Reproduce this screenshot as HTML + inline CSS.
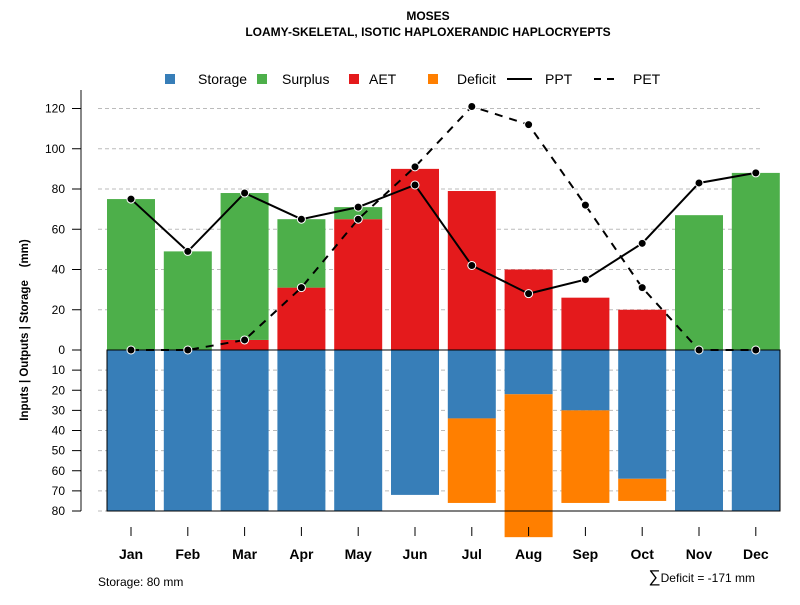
<!DOCTYPE html>
<html><head><meta charset="utf-8"><style>
body{margin:0;background:#fff;font-family:"Liberation Sans",sans-serif}
svg text{font-family:"Liberation Sans",sans-serif}
</style></head><body>
<svg id="c" width="800" height="600" xmlns="http://www.w3.org/2000/svg">
<text x="428" y="20" font-size="12" font-weight="bold" text-anchor="middle">MOSES</text>
<text x="428" y="36" font-size="12" font-weight="bold" text-anchor="middle">LOAMY-SKELETAL, ISOTIC HAPLOXERANDIC HAPLOCRYEPTS</text>
<g>
<rect x="165" y="74" width="10" height="10" fill="#377eb8"/>
<text x="198" y="84" font-size="14">Storage</text>
<rect x="257" y="74" width="10" height="10" fill="#4daf4a"/>
<text x="282" y="84" font-size="14">Surplus</text>
<rect x="349" y="74" width="10" height="10" fill="#e41a1c"/>
<text x="369" y="84" font-size="14">AET</text>
<rect x="428" y="74" width="10" height="10" fill="#ff7f00"/>
<text x="457" y="84" font-size="14">Deficit</text>
<line x1="507" y1="79" x2="532" y2="79" stroke="#000" stroke-width="2"/>
<text x="545" y="84" font-size="14">PPT</text>
<line x1="594" y1="79" x2="618" y2="79" stroke="#000" stroke-width="2" stroke-dasharray="7,6"/>
<text x="633" y="84" font-size="14">PET</text>
</g>
<text transform="translate(28,330) rotate(-90)" font-size="11.5" font-weight="bold" text-anchor="middle" xml:space="preserve" style="white-space:pre">Inputs | Outputs | Storage    (mm)</text>
<text x="98" y="586" font-size="12">Storage: 80 mm</text>
<text x="755" y="582" font-size="12" text-anchor="end"><tspan font-size="17">∑</tspan>Deficit = -171 mm</text>
<g id="plot"></g>
</svg>
<script>
const months=["Jan","Feb","Mar","Apr","May","Jun","Jul","Aug","Sep","Oct","Nov","Dec"];
const ppt=[75,49,78,65,71,82,42,28,35,53,83,88];
const pet=[0,0,5,31,65,91,121,112,72,31,0,0];
const aet=[0,0,5,31,65,90,79,40,26,20,0,0];
const surplus=[75,49,73,34,6,0,0,0,0,0,67,88];
const storage=[80,80,80,80,80,72,34,22,30,64,80,80];
const deficit=[0,0,0,0,0,0,42,71,46,11,0,0];
const posTicks=[0,20,40,60,80,100,120];
const negTicks=[10,20,30,40,50,60,70,80];
const NS="http://www.w3.org/2000/svg";
const g=document.getElementById('plot');
const Y0=350,K=2.0125;
const yP=v=>Y0-v*K, yN=v=>Y0+v*K;
const xC=i=>131+i*56.8, BW=48;
function el(t,a){const e=document.createElementNS(NS,t);for(const k in a)e.setAttribute(k,a[k]);g.appendChild(e);return e;}
posTicks.forEach(v=>{if(v===0)return;const l=el('line',{x1:98,x2:760,y1:yP(v),y2:yP(v),stroke:'#bbb','stroke-dasharray':'4,3'});

});
negTicks.forEach(v=>{const l=el('line',{x1:98,x2:760,y1:yN(v),y2:yN(v),stroke:'#bbb','stroke-dasharray':'4,3'});

});
months.forEach((m,i)=>{const x=xC(i)-BW/2;
let r=el('rect',{x:x,y:yP(aet[i]),width:BW,height:aet[i]*K,fill:'#e41a1c'});


r=el('rect',{x:x,y:yP(aet[i]+surplus[i]),width:BW,height:surplus[i]*K,fill:'#4daf4a'});


r=el('rect',{x:x,y:Y0,width:BW,height:storage[i]*K,fill:'#377eb8'});


r=el('rect',{x:x,y:yN(storage[i]),width:BW,height:deficit[i]*K,fill:'#ff7f00'});


});
let bx=el('rect',{x:107,y:Y0,width:673,height:80*K,fill:'none',stroke:'#000','stroke-width':1});


let ax=el('line',{x1:81,x2:81,y1:90,y2:yN(80),stroke:'#888','stroke-width':2});


posTicks.forEach(v=>{el('line',{x1:72,x2:81,y1:yP(v),y2:yP(v),stroke:'#000'});
const t=el('text',{x:65,y:yP(v)+4,'font-size':12,'text-anchor':'end'});t.textContent=v;

});
negTicks.forEach(v=>{el('line',{x1:72,x2:81,y1:yN(v),y2:yN(v),stroke:'#000'});
const t=el('text',{x:65,y:yN(v)+4,'font-size':12,'text-anchor':'end'});t.textContent=v;

});
months.forEach((m,i)=>{el('line',{x1:xC(i),x2:xC(i),y1:527,y2:536,stroke:'#000'});
const t=el('text',{x:xC(i),y:559,'font-size':14,'font-weight':'bold','text-anchor':'middle'});t.textContent=m;

});
function line(arr,name,dash){
const p=el('polyline',{points:arr.map((v,i)=>xC(i)+','+yP(v)).join(' '),fill:'none',stroke:'#000','stroke-width':2,'stroke-dasharray':dash||'none'});


arr.forEach((v,i)=>{const c=el('circle',{cx:xC(i),cy:yP(v),r:4,fill:'#000',stroke:'#fff','stroke-width':1});

});
}
line(pet,'pet','8,7');
line(ppt,'ppt');
</script>
</body></html>
